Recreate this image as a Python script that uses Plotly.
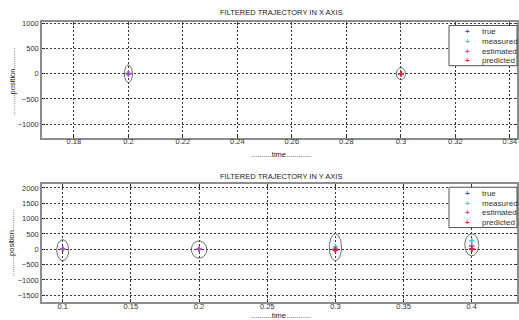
import numpy as np
import plotly.graph_objects as go

W, H = 519, 320

# ---------------- data ----------------
# X-axis filtered trajectory
tx_true = [0.2, 0.3]
x_true = [0, 0]
tx_meas = [0.2, 0.3]
x_meas = [10, 0]
tx_est = [0.2, 0.3]
x_est = [0, 0]
tx_pred = [0.3]
x_pred = [0]
tx_ell = [0.2, 0.3]
x_ell_c = [0, 0]
x_ell_rx = [0.0015, 0.0017]
x_ell_ry = [175, 118]

# Y-axis filtered trajectory
ty_true = [0.1, 0.2, 0.3, 0.4]
y_true = [0, 0, 0, 0]
ty_meas = [0.1, 0.2, 0.3, 0.4]
y_meas = [0, 0, 84, 268]
ty_est = [0.1, 0.2, 0.3, 0.4]
y_est = [0, 0, -10, 106]
ty_pred = [0.3, 0.4]
y_pred = [-20, 10]
ty_ell = [0.1, 0.2, 0.3, 0.4]
y_ell_c = [-30, -10, 65, 145]
y_ell_rx = [0.0044, 0.0057, 0.0045, 0.0051]
y_ell_ry = [345, 280, 440, 360]

x_ticks = [0.18, 0.2, 0.22, 0.24, 0.26, 0.28, 0.3, 0.32, 0.34]
x_ticktext = ["0.18", "0.2", "0.22", "0.24", "0.26", "0.28", "0.3", "0.32", "0.34"]
x_yticks = [-1000, -500, 0, 500, 1000]
y_xticks = [0.1, 0.15, 0.2, 0.25, 0.3, 0.35, 0.4]
y_xticktext = ["0.1", "0.15", "0.2", "0.25", "0.3", "0.35", "0.4"]
y_yticks = [-1500, -1000, -500, 0, 500, 1000, 1500, 2000]

series_names = ["true", "measured", "estimated", "predicted"]
series_colors = ["#2f50c8", "#45c4e6", "#c040c0", "#f01e1e"]

titles = ["FILTERED TRAJECTORY IN X AXIS", "FILTERED TRAJECTORY IN Y AXIS"]
xlabel = "..........time............"
ylabel = "..........position.........."

FONT = "Liberation Sans, Arial, sans-serif"


def px_x(p):
    return p / W


def px_y(p):
    return 1 - p / H


fig = go.Figure()


def add_panel(xa, ya, tsets, ell):
    tc, cc, rx, ry = ell
    th = np.linspace(0, 2 * np.pi, 80)
    ex, ey = [], []
    for t0, c0, a, b in zip(tc, cc, rx, ry):
        ex += list(t0 + a * np.cos(th)) + [None]
        ey += list(c0 + b * np.sin(th)) + [None]
    fig.add_trace(go.Scatter(x=ex, y=ey, mode="lines", xaxis=xa, yaxis=ya,
                             line=dict(color="#5a5a5a", width=0.9),
                             showlegend=False, hoverinfo="skip"))
    for (tx, vy), name, col in zip(tsets, series_names, series_colors):
        fig.add_trace(go.Scatter(x=tx, y=vy, mode="markers", name=name,
                                 xaxis=xa, yaxis=ya, showlegend=False,
                                 marker=dict(symbol="cross-thin", size=4,
                                             line=dict(color=col, width=1.6))))


add_panel("x", "y",
          [(tx_true, x_true), (tx_meas, x_meas), (tx_est, x_est), (tx_pred, x_pred)],
          (tx_ell, x_ell_c, x_ell_rx, x_ell_ry))
add_panel("x2", "y2",
          [(ty_true, y_true), (ty_meas, y_meas), (ty_est, y_est), (ty_pred, y_pred)],
          (ty_ell, y_ell_c, y_ell_rx, y_ell_ry))

axis_common = dict(showgrid=True, gridcolor="#333333", griddash="2px,2px",
                   gridwidth=0.8, zeroline=False, showline=True,
                   linecolor="#8c8c8c", linewidth=1.5, mirror="ticks",
                   ticks="inside", ticklen=3, tickcolor="#333333",
                   tickfont=dict(family=FONT, size=7.5, color="#333333"))

fig.update_layout(
    width=W, height=H, margin=dict(l=0, r=0, t=0, b=0),
    paper_bgcolor="white", plot_bgcolor="white", showlegend=False,
    xaxis=dict(domain=[px_x(42), px_x(517)], range=[0.1683, 0.3426],
               tickvals=x_ticks, ticktext=x_ticktext, anchor="y",
               ticklabelstandoff=-4, **axis_common),
    yaxis=dict(domain=[px_y(136), px_y(19)], range=[-1270, 1030],
               tickvals=x_yticks, anchor="x", **axis_common),
    xaxis2=dict(domain=[px_x(42), px_x(517)], range=[0.0848, 0.4332],
                tickvals=y_xticks, ticktext=y_xticktext, anchor="y2",
                ticklabelstandoff=-4, **axis_common),
    yaxis2=dict(domain=[px_y(301.7), px_y(182.7)], range=[-1716, 2130],
                tickvals=y_yticks, anchor="x2", **axis_common),
)

annotations = []
shapes = []
panels = [
    dict(title_y=10, xlabel_y=153, ylabel_y=79, leg_top=22.7, leg_bot=63.3),
    dict(title_y=175, xlabel_y=315.5, ylabel_y=242, leg_top=186, leg_bot=226.7),
]
for i, p in enumerate(panels):
    annotations.append(dict(text=titles[i], x=px_x(281), y=px_y(p["title_y"]),
                            xref="paper", yref="paper", showarrow=False,
                            xanchor="center", yanchor="middle",
                            font=dict(family=FONT, size=7.5, color="#222222")))
    annotations.append(dict(text=xlabel, x=px_x(281), y=px_y(p["xlabel_y"]),
                            xref="paper", yref="paper", showarrow=False,
                            xanchor="center", yanchor="middle",
                            font=dict(family=FONT, size=7.5, color="#222222")))
    annotations.append(dict(text=ylabel, x=px_x(12), y=px_y(p["ylabel_y"]),
                            xref="paper", yref="paper", showarrow=False,
                            textangle=-90, xanchor="center", yanchor="middle",
                            font=dict(family=FONT, size=7.5, color="#222222")))
    shapes.append(dict(type="rect", xref="paper", yref="paper",
                       x0=px_x(449), x1=px_x(517), y0=px_y(p["leg_bot"]),
                       y1=px_y(p["leg_top"]), fillcolor="white",
                       line=dict(color="#555555", width=1), layer="above"))
    for k, (name, col) in enumerate(zip(series_names, series_colors)):
        ry = p["leg_top"] + 6.5 + k * 9.7
        annotations.append(dict(text="<b>+</b>", x=px_x(467), y=px_y(ry),
                                xref="paper", yref="paper", showarrow=False,
                                xanchor="center", yanchor="middle",
                                font=dict(family=FONT, size=8, color=col)))
        annotations.append(dict(text=name, x=px_x(480), y=px_y(ry),
                                xref="paper", yref="paper", showarrow=False,
                                xanchor="left", yanchor="middle",
                                font=dict(family=FONT, size=8, color="#333333")))

fig.update_layout(annotations=annotations, shapes=shapes)
fig.write_html("out.html")
